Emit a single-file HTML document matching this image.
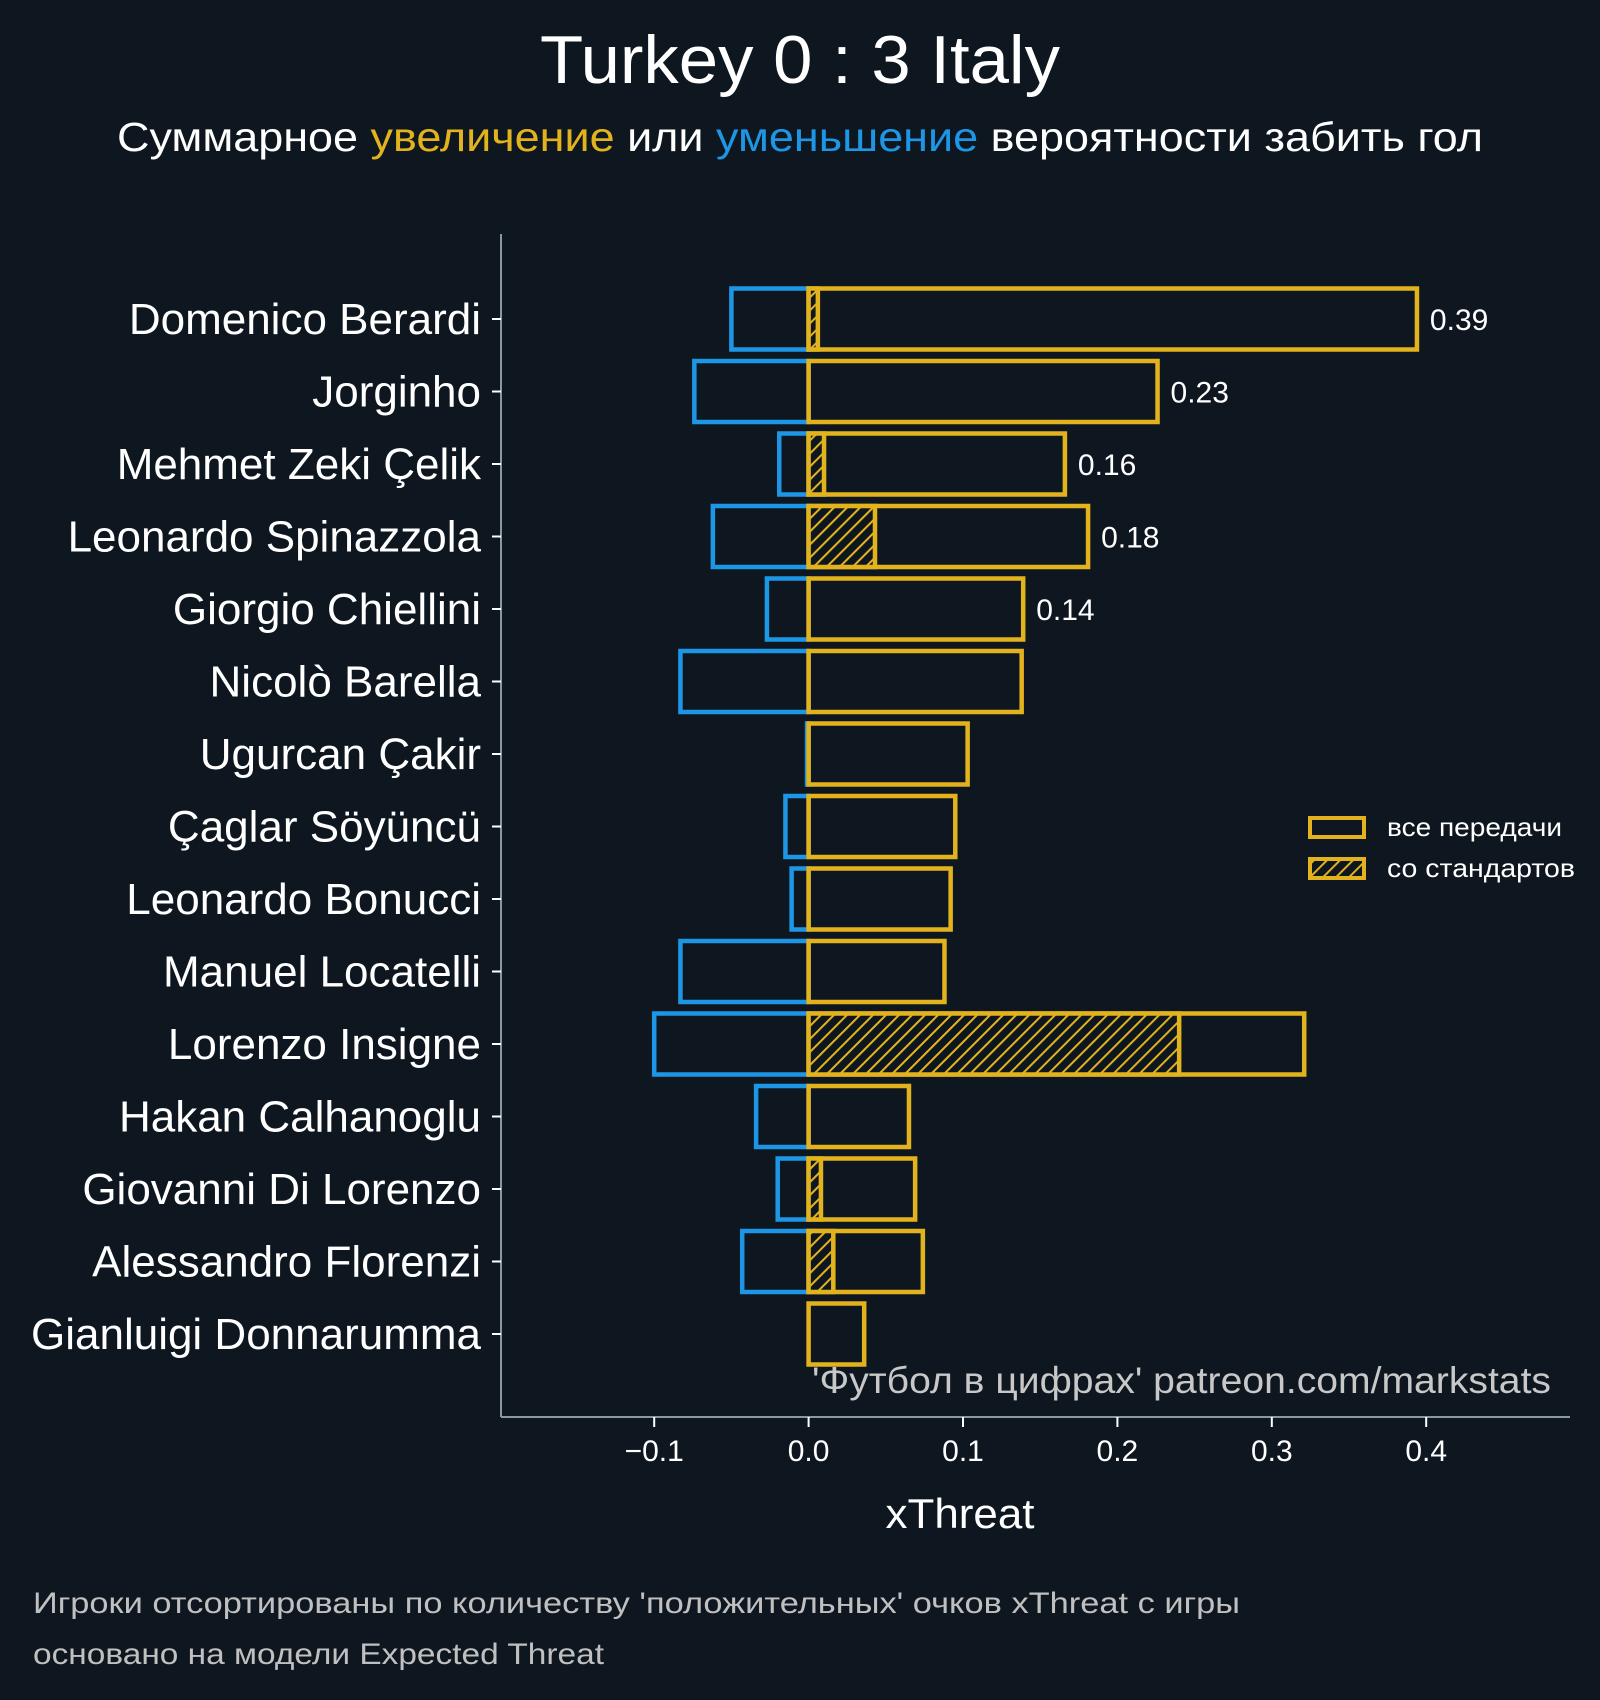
<!DOCTYPE html>
<html><head><meta charset="utf-8"><style>
html,body{margin:0;padding:0;background:#0e1720;}
svg{display:block;font-family:"Liberation Sans","DejaVu Sans",sans-serif;}
</style></head><body>
<svg id="chart" width="1600" height="1700" viewBox="0 0 1600 1700" xmlns="http://www.w3.org/2000/svg">
<defs>
<pattern id="hatch" patternUnits="userSpaceOnUse" width="9.2" height="9.2" patternTransform="rotate(45)">
<rect width="9.2" height="9.2" fill="#0e1720"/>
<line x1="0" y1="0" x2="0" y2="9.2" stroke="#e2b31c" stroke-width="4"/>
</pattern>
</defs>
<rect width="1600" height="1700" fill="#0e1720"/>
<text x="800" y="83" text-anchor="middle" fill="#ffffff" font-size="68" textLength="520" lengthAdjust="spacingAndGlyphs">Turkey 0 : 3 Italy</text>
<text x="800" y="151" text-anchor="middle" fill="#ffffff" font-size="41" textLength="1366" lengthAdjust="spacingAndGlyphs">Суммарное <tspan fill="#e2b31c">увеличение</tspan> или <tspan fill="#1e96e6">уменьшение</tspan> вероятности забить гол</text>
<g id="plot"></g>
<line x1="501" y1="234" x2="501" y2="1417" stroke="#8a9a9a" stroke-width="2"/>
<line x1="501" y1="1417" x2="1570" y2="1417" stroke="#8a9a9a" stroke-width="2"/>
<text x="960" y="1528" text-anchor="middle" fill="#ffffff" font-size="42" textLength="149" lengthAdjust="spacingAndGlyphs">xThreat</text>
<text x="1551" y="1393" text-anchor="end" fill="#c8c8c8" font-size="37" textLength="739" lengthAdjust="spacingAndGlyphs">'Футбол в цифрах' patreon.com/markstats</text>
<text x="33" y="1613" fill="#c0c0c0" font-size="30" textLength="1207" lengthAdjust="spacingAndGlyphs">Игроки отсортированы по количеству 'положительных' очков xThreat с игры</text>
<text x="33" y="1664" fill="#c0c0c0" font-size="30" textLength="571" lengthAdjust="spacingAndGlyphs">основано на модели Expected Threat</text>
<g>
<rect x="1310" y="818" width="54" height="19" fill="none" stroke="#e2b31c" stroke-width="4"/>
<text x="1387" y="836" fill="#ffffff" font-size="26" textLength="175" lengthAdjust="spacingAndGlyphs">все передачи</text>
<rect x="1310" y="859" width="54" height="19" fill="url(#hatch)" stroke="#e2b31c" stroke-width="4"/>
<text x="1387" y="877" fill="#ffffff" font-size="26" textLength="188" lengthAdjust="spacingAndGlyphs">со стандартов</text>
</g>
</svg>
<script>
const players = ["Domenico Berardi","Jorginho","Mehmet Zeki Çelik","Leonardo Spinazzola","Giorgio Chiellini","Nicolò Barella","Ugurcan Çakir","Çaglar Söyüncü","Leonardo Bonucci","Manuel Locatelli","Lorenzo Insigne","Hakan Calhanoglu","Giovanni Di Lorenzo","Alessandro Florenzi","Gianluigi Donnarumma"];
const negative = [-0.050,-0.074,-0.019,-0.062,-0.027,-0.083,-0.001,-0.015,-0.011,-0.083,-0.100,-0.034,-0.020,-0.043,0];
const positive = [0.394,0.226,0.166,0.181,0.139,0.138,0.103,0.095,0.092,0.088,0.321,0.065,0.069,0.074,0.036];
const setPieces = [0.006,0,0.010,0.043,0,0,0,0,0,0,0.240,0,0.008,0.016,0];
const valueLabels = ["0.39","0.23","0.16","0.18","0.14","","","","","","","","","",""];
const xTicks = [-0.1,0,0.1,0.2,0.3,0.4];
const xTickLabels = ["−0.1","0.0","0.1","0.2","0.3","0.4"];

const NS="http://www.w3.org/2000/svg";
const svg=document.getElementById('chart');
const plot=document.getElementById('plot');
const x=v=>808.6+v*1544;
const y=i=>319+i*72.5;
const bh=61;
const Y="#e2b31c", B="#1e96e6";
function mk(tag,attrs,parent){const e=document.createElementNS(NS,tag);for(const k in attrs)e.setAttribute(k,attrs[k]);(parent||plot).appendChild(e);return e;}

xTicks.forEach((t,i)=>{
  const l=mk('line',{x1:x(t),x2:x(t),y1:1417,y2:1427,stroke:'#ffffff','stroke-width':2},svg);
  
  
  const tx=mk('text',{x:x(t),y:1461,'text-anchor':'middle',fill:'#ffffff','font-size':30},svg);
  tx.textContent=xTickLabels[i];
  
  
});

players.forEach((p,i)=>{
  const cy=y(i);
  const tk=mk('line',{x1:492,x2:501,y1:cy,y2:cy,stroke:'#ffffff','stroke-width':2},svg);
  
  
  const lb=mk('text',{x:481,y:cy+15,'text-anchor':'end',fill:'#ffffff','font-size':44},svg);
  lb.textContent=p;
  
  
  if(negative[i]<0){
    const r=mk('rect',{x:x(negative[i]),y:cy-bh/2,width:x(0)-x(negative[i]),height:bh,fill:'none',stroke:B,'stroke-width':4.5});
    
    
  }
  const r2=mk('rect',{x:x(0),y:cy-bh/2,width:x(positive[i])-x(0),height:bh,fill:'none',stroke:Y,'stroke-width':4.5});
  
  
  if(setPieces[i]>0){
    const r3=mk('rect',{x:x(0),y:cy-bh/2,width:x(setPieces[i])-x(0),height:bh,fill:'url(#hatch)',stroke:Y,'stroke-width':4.5});
    
    
  }
  if(valueLabels[i]){
    const v=mk('text',{x:x(positive[i])+13,y:cy+11,fill:'#ffffff','font-size':30});
    v.textContent=valueLabels[i];
    
    
  }
});
</script>
</body></html>
